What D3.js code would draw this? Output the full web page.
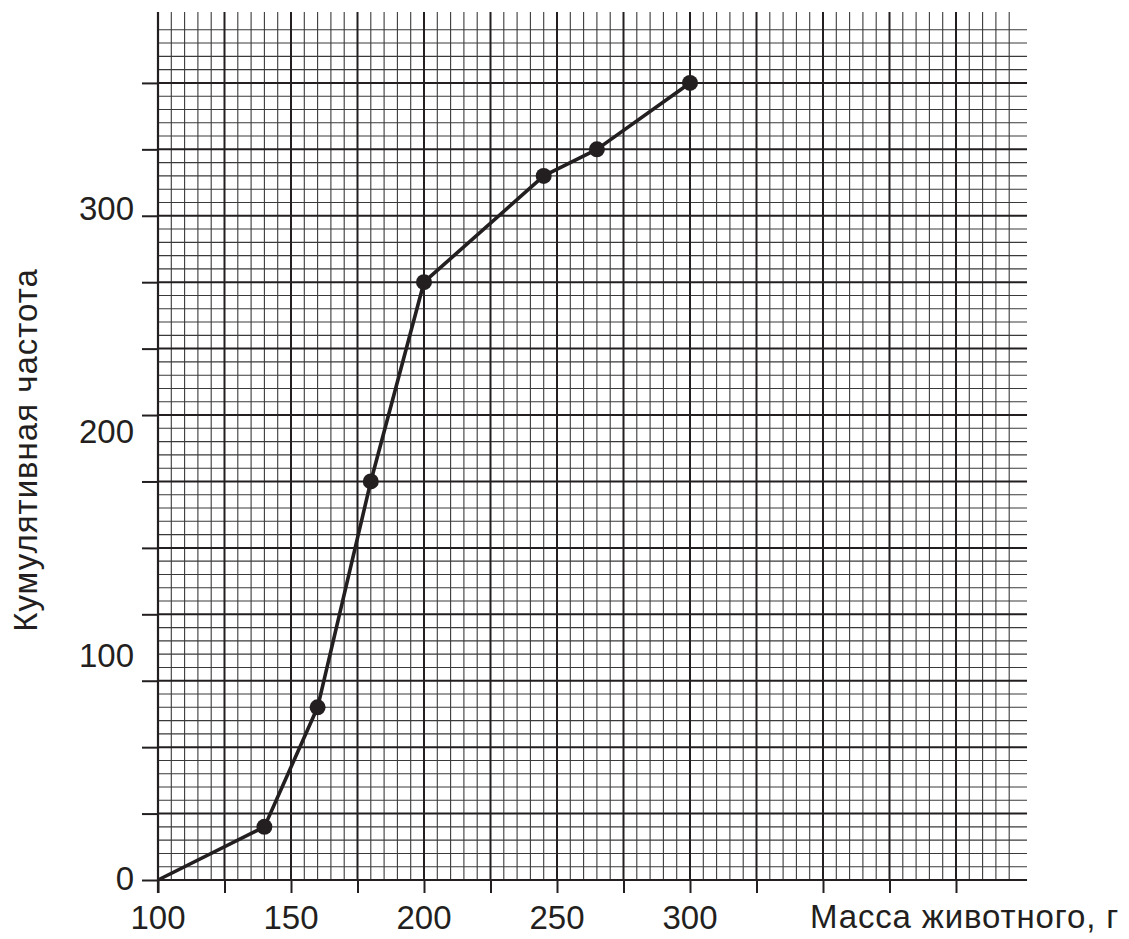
<!DOCTYPE html>
<html>
<head>
<meta charset="utf-8">
<script src="https://cdn.jsdelivr.net/npm/d3@7"></script>
<style>
  html, body { margin: 0; padding: 0; background: #fff; }
  svg { display: block; }
  text { font-family: "Liberation Sans", Arial, Helvetica, sans-serif; fill: #231f20; }
</style>
</head>
<body>
<svg id="chart" width="1129" height="939"></svg>
<script>
// ---- data ----
const massX = [100, 140, 160, 180, 200, 245, 265, 300];
const cumFreq = [0, 24, 78, 180, 270, 318, 330, 360];
const yTickLabels = [0, 100, 200, 300];
const xTickLabels = [100, 150, 200, 250, 300];
const xTitle = "Масса животного, г";
const yTitle = "Кумулятивная частота";

// ---- layout ----
const svg = d3.select("#chart");
const ink = "#231f20";

const x = d3.scaleLinear().domain([100, 425]).range([158, 1022.5]);
const y = d3.scaleLinear().domain([0, 390]).range([880, 16.5]);

const gridX = d3.range(100, 420.1, 5);   // vertical lines
const gridY = d3.range(0, 384.1, 6);     // horizontal lines
const isMajorX = v => Math.abs((v - 100) % 25) < 1e-6;
const isMajorY = v => Math.abs(v % 30) < 1e-6;

const grid = svg.append("g");
// minor first
grid.selectAll("line.vmin").data(gridX.filter(v => !isMajorX(v))).join("line")
  .attr("x1", d => x(d)).attr("x2", d => x(d))
  .attr("y1", y(0)).attr("y2", y(392))
  .attr("stroke", "#3a3a3a").attr("stroke-width", 1.1);
grid.selectAll("line.hmin").data(gridY.filter(v => !isMajorY(v))).join("line")
  .attr("x1", x(100)).attr("x2", x(426.7))
  .attr("y1", d => y(d)).attr("y2", d => y(d))
  .attr("stroke", "#3a3a3a").attr("stroke-width", 1.1);
// major
grid.selectAll("line.vmaj").data(gridX.filter(v => isMajorX(v) && v > 100)).join("line")
  .attr("x1", d => x(d)).attr("x2", d => x(d))
  .attr("y1", y(0)).attr("y2", y(392))
  .attr("stroke", ink).attr("stroke-width", 2);
grid.selectAll("line.hmaj").data(gridY.filter(v => isMajorY(v) && v > 0)).join("line")
  .attr("x1", x(100)).attr("x2", x(426.7))
  .attr("y1", d => y(d)).attr("y2", d => y(d))
  .attr("stroke", ink).attr("stroke-width", 2);

// axes
const xAxis = d3.axisBottom(x).tickValues(d3.range(100, 400.1, 25)).tickSize(13).tickFormat("");
const gx = svg.append("g").attr("transform", `translate(0,${y(0)})`).call(xAxis);
gx.select(".domain").remove();
gx.selectAll(".tick line").attr("stroke", ink).attr("stroke-width", 2);
svg.append("line").attr("x1", x(100)).attr("x2", x(426.7)).attr("y1", y(0)).attr("y2", y(0))
  .attr("stroke", ink).attr("stroke-width", 2);

const yAxis = d3.axisLeft(y).tickValues(d3.range(0, 360.1, 30)).tickSize(16).tickFormat("");
const gy = svg.append("g").attr("transform", `translate(${x(100)},0)`).call(yAxis);
gy.select(".domain").remove();
gy.selectAll(".tick line").attr("stroke", ink).attr("stroke-width", 2);
svg.append("line").attr("x1", x(100)).attr("x2", x(100)).attr("y1", y(392)).attr("y2", y(0) + 13)
  .attr("stroke", ink).attr("stroke-width", 2.2);

// tick labels
svg.selectAll("text.yl").data(yTickLabels).join("text")
  .attr("x", x(100) - 24)
  .attr("y", d => y(d) - 2 - d * 0.018)
  .attr("dy", "0.36em")
  .attr("text-anchor", "end")
  .attr("font-size", 33)
  .text(d => d);
svg.selectAll("text.xl").data(xTickLabels).join("text")
  .attr("x", d => x(d))
  .attr("y", 929)
  .attr("text-anchor", "middle")
  .attr("font-size", 33)
  .text(d => d);

// titles
svg.append("text").attr("x", 810).attr("y", 928).attr("font-size", 33)
  .attr("letter-spacing", 0.85).text(xTitle);
svg.append("text").attr("transform", "translate(37,450) rotate(-90)")
  .attr("text-anchor", "middle").attr("font-size", 33)
  .attr("letter-spacing", 1).text(yTitle);

// data line and points
const pts = massX.map((m, i) => [m, cumFreq[i]]);
svg.append("path").datum(pts)
  .attr("d", d3.line().x(d => x(d[0])).y(d => y(d[1])))
  .attr("fill", "none").attr("stroke", ink).attr("stroke-width", 3.6)
  .attr("stroke-linejoin", "round");
svg.selectAll("circle.pt").data(pts.slice(1)).join("circle")
  .attr("cx", d => x(d[0])).attr("cy", d => y(d[1])).attr("r", 8)
  .attr("fill", ink);
</script>
</body>
</html>
